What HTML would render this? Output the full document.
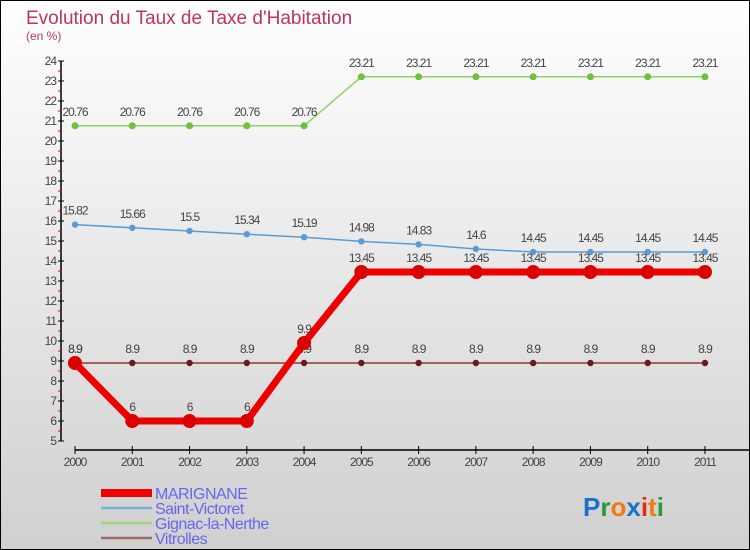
<!DOCTYPE html>
<html><head><meta charset="utf-8"><style>
body{margin:0}
#c{width:750px;height:550px;position:relative;overflow:hidden;box-sizing:border-box;border:1px solid #000;background:linear-gradient(#ffffff,#d0d0d0);font-family:"Liberation Sans",sans-serif}
</style></head><body>
<div id="c">
<svg id="s" width="750" height="550" style="position:absolute;left:-1px;top:-1px">
<text x="26" y="24" font-size="19" fill="#c0335f">Evolution du Taux de Taxe d'Habitation</text>
<text x="26" y="40" font-size="12" fill="#c0335f">(en %)</text>
</svg>
</div>
<script>
const years=["2000","2001","2002","2003","2004","2005","2006","2007","2008","2009","2010","2011"];
const marignane=[8.9,6,6,6,9.9,13.45,13.45,13.45,13.45,13.45,13.45,13.45];
const saintVictoret=[15.82,15.66,15.5,15.34,15.19,14.98,14.83,14.6,14.45,14.45,14.45,14.45];
const gignac=[20.76,20.76,20.76,20.76,20.76,23.21,23.21,23.21,23.21,23.21,23.21,23.21];
const vitrolles=[8.9,8.9,8.9,8.9,8.9,8.9,8.9,8.9,8.9,8.9,8.9,8.9];
const yTicks=[5,6,7,8,9,10,11,12,13,14,15,16,17,18,19,20,21,22,23,24];
const NS="http://www.w3.org/2000/svg";
const svg=document.getElementById('s');
const X=i=>75+i*57.27;
const Y=v=>441-(v-5)*20;
function mk(t,a,p){const e=document.createElementNS(NS,t);for(const k in a)e.setAttribute(k,a[k]);(p||svg).appendChild(e);return e;}
let ya=mk('line',{x1:61,y1:Y(24),x2:61,y2:Y(5),stroke:'#000','stroke-width':1.5});


yTicks.forEach(v=>{
 mk('line',{x1:58,y1:Y(v),x2:64,y2:Y(v),stroke:'#000'});
 if(v<24)mk('line',{x1:58,y1:Y(v+0.5),x2:61,y2:Y(v+0.5),stroke:'#e00'});
 let t=mk('text',{x:56,y:Y(v)+4,'text-anchor':'end','font-size':12,fill:'#444','letter-spacing':'-1'});
 t.textContent=v;
 
 
});
let xa=mk('line',{x1:75,y1:450,x2:750,y2:450,stroke:'#000','stroke-width':1.5});


years.forEach((y,i)=>{
 mk('line',{x1:X(i),y1:446,x2:X(i),y2:454,stroke:'#000'});
 let t=mk('text',{x:X(i),y:466,'text-anchor':'middle','font-size':12,fill:'#444','letter-spacing':'-1'});
 t.textContent=y;
 
 
});
function series(vals,color,w,r,dot,name,labelDy){
 const g=mk('g',{});
 
 
 mk('polyline',{points:vals.map((v,i)=>X(i)+','+Y(v)).join(' '),fill:'none',stroke:color,'stroke-width':w,'stroke-linejoin':'round'},g);
 vals.forEach((v,i)=>{
  let c=mk('circle',{cx:X(i),cy:Y(v),r:r,fill:dot},g);
  
  
  let t=mk('text',{x:X(i),y:Y(v)+labelDy,'text-anchor':'middle','font-size':12,fill:'#444','letter-spacing':'-1'},g);
  t.textContent=v;
  
  
 });
}
series(vitrolles,'#8b3a3a',1.5,3.2,'#6a1a1a','vitrolles',-10);
series(saintVictoret,'#5b9bd5',1.5,3.2,'#5b9bd5','saint-victoret',-10);
series(gignac,'#8fd16a',1.5,3.5,'#6cc23a','gignac',-10);
series(marignane,'#ee0000',7,7,'#dd0000','marignane',-10);
const leg=[['MARIGNANE','#ee0000',8],['Saint-Victoret','#7ab0d8',2.5],['Gignac-la-Nerthe','#9fd27a',2.5],['Vitrolles','#9a6a6a',2.5]];
leg.forEach((l,i)=>{
 const y=493+i*15;
 const g=mk('g',{});
 
 
 mk('line',{x1:101,y1:y,x2:152,y2:y,stroke:l[1],'stroke-width':l[2]},g);
 let t=mk('text',{x:155,y:y+6,'font-size':16,fill:'#6666ee','letter-spacing':'-0.5'},g);
 t.textContent=l[0];
});
const lg=mk('text',{x:583,y:516,'font-size':26,'font-weight':'bold'});


[['P','#1a73c9'],['r','#2a9a3a'],['o','#f07a10'],['x','#1a73c9'],['i','#e03010'],['t','#f07a10'],['i','#2a9a3a']].forEach(p=>{const s=mk('tspan',{fill:p[1]},lg);s.textContent=p[0];});
</script>
</body></html>
